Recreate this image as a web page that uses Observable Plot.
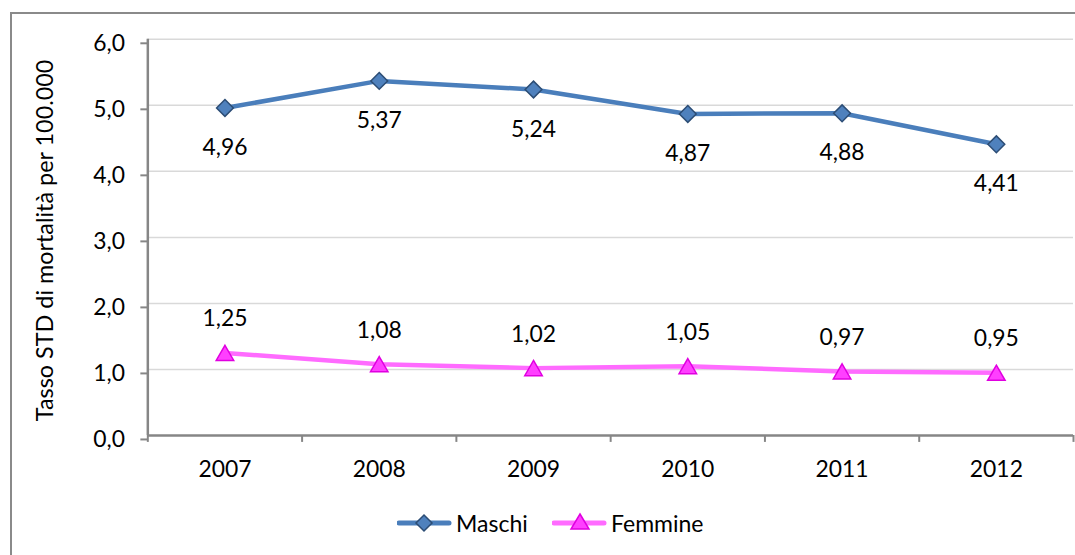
<!DOCTYPE html>
<html>
<head>
<meta charset="utf-8">
<script src="https://cdn.jsdelivr.net/npm/d3@7"></script>
<script src="https://cdn.jsdelivr.net/npm/@observablehq/plot@0.6"></script>
<style>
  html, body { margin: 0; padding: 0; background: #fff; width: 1075px; height: 555px; overflow: hidden; }
  #wrap { position: relative; width: 1075px; height: 555px; font-family: Lato, "Open Sans", sans-serif; }
  #frame { position: absolute; left: 10px; top: 12px; width: 1200px; height: 700px; border-left: 2px solid #8a8a8a; border-top: 2px solid #8a8a8a; box-sizing: border-box; }
  #chart { position: absolute; left: 0; top: 0; }
  #legend { position: absolute; top: 508px; left: 0; width: 1075px; height: 30px; font-size: 23px; color: #000; }
  .lg { position: absolute; top: 0; display: flex; align-items: center; height: 30px; }
  .lg svg { display: block; margin-right: 4px; }
</style>
</head>
<body>
<div id="wrap">
  <div id="frame"></div>
  <div id="chart"></div>
  <div id="legend"></div>
</div>
<script>
const years = ["2007", "2008", "2009", "2010", "2011", "2012"];
const maschi = [4.96, 5.37, 5.24, 4.87, 4.88, 4.41];
const femmine = [1.25, 1.08, 1.02, 1.05, 0.97, 0.95];
const yTicks = [0, 1, 2, 3, 4, 5, 6];
const seriesNames = ["Maschi", "Femmine"];
const yTitle = "Tasso STD di mortalità per 100.000";

const blueLine = "#4a7ebb", blueFill = "#4f81bd", blueStroke = "#2c4d75";
const pinkLine = "#ff6bff", pinkFill = "#ff3fff", pinkStroke = "#e000e0";

const idx = years.map((_, i) => i);
const bounds = d3.range(-0.5, years.length, 1);
const mData = idx.map(i => ({i, v: maschi[i]}));
const fData = idx.map(i => ({i, v: femmine[i]}));
const fmt = v => v.toFixed(2).replace(".", ",");

const chart = Plot.plot({
  width: 1080,
  height: 555,
  marginLeft: 148,
  marginRight: 2,
  marginTop: 39,
  marginBottom: 118,
  style: {fontFamily: "Lato, 'Open Sans', sans-serif", fontSize: "23px", color: "#000", background: "transparent"},
  x: {type: "linear", domain: [-0.5, years.length - 0.5]},
  y: {domain: [0, 6]},
  marks: [
    Plot.ruleY(yTicks.filter(d => d > 0), {stroke: "#d9d9d9", strokeWidth: 1.5}),
    Plot.axisY(yTicks, {
      tickSize: 7, tickPadding: 16, stroke: "#868686", strokeWidth: 2,
      tickFormat: d => d.toFixed(1).replace(".", ","),
      fontSize: 23, dy: 4, label: null
    }),
    Plot.text([yTitle], {frameAnchor: "left", textAnchor: "middle", rotate: -90, dx: -103, dy: 3, fontSize: 23.5, fill: "#000"}),
    Plot.axisX(idx, {
      tickSize: 0, tickPadding: 25, fontSize: 23,
      tickFormat: i => years[i], label: null
    }),
    Plot.ruleX(bounds, {y1: 0, y2: -0.105, stroke: "#868686", strokeWidth: 2}),
    Plot.ruleX([-0.5], {y1: 0, y2: 6, stroke: "#868686", strokeWidth: 2.5}),
    Plot.ruleY([0], {stroke: "#868686", strokeWidth: 2.5}),
    Plot.line(mData, {x: "i", y: "v", stroke: blueLine, strokeWidth: 4.5}),
    Plot.line(fData, {x: "i", y: "v", stroke: pinkLine, strokeWidth: 4.5}),
    Plot.dot(mData, {x: "i", y: "v", symbol: "diamond2", r: 7.6, fill: blueFill, stroke: blueStroke, strokeWidth: 1.5}),
    Plot.dot(fData, {x: "i", y: "v", symbol: "triangle2", r: 8.4, fill: pinkFill, stroke: pinkStroke, strokeWidth: 1.5, dy: 2.5}),
    Plot.text(mData, {x: "i", y: "v", text: d => fmt(d.v), dy: 40, fontSize: 23, fill: "#000"}),
    Plot.text(fData, {x: "i", y: "v", text: d => fmt(d.v), dy: -34, fontSize: 23, fill: "#000"})
  ]
});
document.getElementById("chart").appendChild(chart);

// Legend
const legend = document.getElementById("legend");
const legendItems = [
  {name: seriesNames[0], line: blueLine, fill: blueFill, stroke: blueStroke, sym: "diamond", left: 397},
  {name: seriesNames[1], line: pinkLine, fill: pinkFill, stroke: pinkStroke, sym: "triangle", left: 552}
];
for (const it of legendItems) {
  const div = document.createElement("div");
  div.className = "lg";
  div.style.left = it.left + "px";
  const shape = it.sym === "diamond"
    ? `<path d="M27,6 L35,14 L27,22 L19,14 Z" fill="${it.fill}" stroke="${it.stroke}" stroke-width="1.5"/>`
    : `<path d="M28,5 L37,20 L19,20 Z" fill="${it.fill}" stroke="${it.stroke}" stroke-width="1.5"/>`;
  div.innerHTML = `<svg width="55" height="28"><line x1="2" y1="14" x2="52" y2="14" stroke="${it.line}" stroke-width="5" stroke-linecap="round"/>${shape}</svg><span>${it.name}</span>`;
  legend.appendChild(div);
}
</script>
</body>
</html>
